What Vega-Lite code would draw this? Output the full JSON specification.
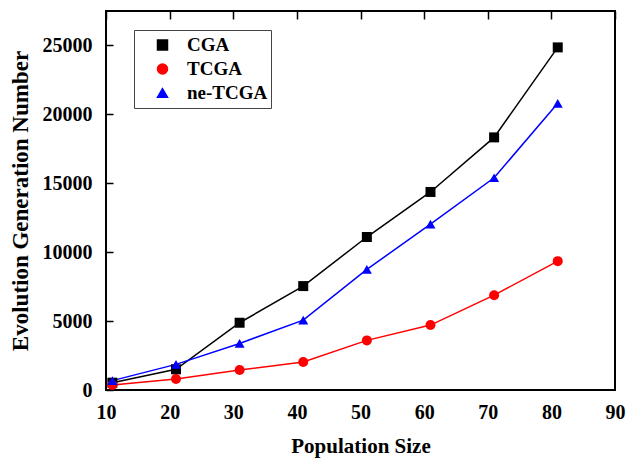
{
  "$schema": "https://vega.github.io/schema/vega-lite/v6.json",
  "width": 509,
  "height": 379,
  "autosize": "none",
  "padding": {"left": 106, "top": 11, "right": 21, "bottom": 69},
  "background": "white",
  "config": {
    "view": {"stroke": "black", "strokeWidth": 2},
    "axis": {
      "domain": false, "ticks": false, "grid": true, "gridColor": "black", "gridOpacity": 1, "gridWidth": 1.5, "gridDash": [8, 1000],
      "labelFont": "Liberation Serif", "labelFontWeight": "bold", "labelFontSize": 20, "labelColor": "black", "labelFlush": false,
      "titleFont": "Liberation Serif", "titleFontWeight": "bold", "titleFontSize": 21, "titleColor": "black"
    }
  },
  "data": {
    "values": [
      {"x": 11, "y": 530, "s": "CGA"}, {"x": 21, "y": 1500, "s": "CGA"}, {"x": 31, "y": 4880, "s": "CGA"}, {"x": 41, "y": 7540, "s": "CGA"},
      {"x": 51, "y": 11100, "s": "CGA"}, {"x": 61, "y": 14370, "s": "CGA"}, {"x": 71, "y": 18330, "s": "CGA"}, {"x": 81, "y": 24860, "s": "CGA"},
      {"x": 11, "y": 360, "s": "TCGA"}, {"x": 21, "y": 800, "s": "TCGA"}, {"x": 31, "y": 1450, "s": "TCGA"}, {"x": 41, "y": 2030, "s": "TCGA"},
      {"x": 51, "y": 3600, "s": "TCGA"}, {"x": 61, "y": 4710, "s": "TCGA"}, {"x": 71, "y": 6880, "s": "TCGA"}, {"x": 81, "y": 9350, "s": "TCGA"},
      {"x": 11, "y": 680, "s": "ne-TCGA"}, {"x": 21, "y": 1860, "s": "ne-TCGA"}, {"x": 31, "y": 3380, "s": "ne-TCGA"}, {"x": 41, "y": 5070, "s": "ne-TCGA"},
      {"x": 51, "y": 8750, "s": "ne-TCGA"}, {"x": 61, "y": 12030, "s": "ne-TCGA"}, {"x": 71, "y": 15400, "s": "ne-TCGA"}, {"x": 81, "y": 20800, "s": "ne-TCGA"}
    ]
  },
  "layer": [
    {
      "mark": {"type": "line", "strokeWidth": 1.5},
      "encoding": {
        "x": {"field": "x", "type": "quantitative", "scale": {"domain": [10, 90], "nice": false, "zero": false},
          "axis": {"orient": "bottom", "values": [10, 20, 30, 40, 50, 60, 70, 80, 90], "labelPadding": 12, "title": "Population Size", "titlePadding": 13}},
        "y": {"field": "y", "type": "quantitative", "scale": {"domain": [0, 27500], "nice": false},
          "axis": {"orient": "left", "values": [0, 5000, 10000, 15000, 20000, 25000], "format": "d", "gridDash": [7, 1000], "labelPadding": 14, "title": "Evolution Generation Number", "titleFontSize": 23, "titlePadding": 10}},
        "color": {"field": "s", "type": "nominal", "scale": {"domain": ["CGA", "TCGA", "ne-TCGA"], "range": ["#000000", "#ff0000", "#0000ff"]},
          "legend": {
            "title": null, "orient": "none", "legendX": 28, "legendY": 19,
            "strokeColor": "#444444", "fillColor": "white", "padding": 3, "rowPadding": 0,
            "symbolSize": 100, "clipHeight": 24, "symbolOffset": 16, "labelOffset": 15, "symbolOpacity": 1,
            "labelFont": "Liberation Serif", "labelFontWeight": "bold", "labelFontSize": 19, "labelColor": "black"
          }
        }
      }
    },
    {
      "mark": {"type": "point", "filled": true, "opacity": 1, "size": 100},
      "encoding": {
        "x": {"field": "x", "type": "quantitative", "axis": null},
        "y": {"field": "y", "type": "quantitative", "axis": null},
        "color": {"field": "s", "type": "nominal"},
        "shape": {"field": "s", "type": "nominal", "scale": {"domain": ["CGA", "TCGA", "ne-TCGA"], "range": ["square", "circle", "triangle-up"]}, "legend": null}
      }
    },
    {
      "mark": {"type": "point", "opacity": 0},
      "encoding": {
        "x": {"field": "x", "type": "quantitative",
          "axis": {"orient": "bottom", "values": [15, 25, 35, 45, 55, 65, 75, 85], "gridDash": [5, 1000], "labels": false, "title": null}},
        "y": {"field": "y", "type": "quantitative",
          "axis": {"orient": "left", "values": [2500, 7500, 12500, 17500, 22500], "gridDash": [4, 1000], "labels": false, "title": null}}
      }
    },
    {
      "mark": {"type": "point", "opacity": 0},
      "encoding": {
        "x": {"field": "x", "type": "quantitative",
          "axis": {"orient": "top", "values": [20, 30, 40, 50, 60, 70, 80], "gridDash": [8, 1000], "labels": false, "title": null}},
        "y": {"field": "y", "type": "quantitative", "axis": null}
      }
    }
  ],
  "resolve": {"axis": {"x": "independent", "y": "independent"}}
}
